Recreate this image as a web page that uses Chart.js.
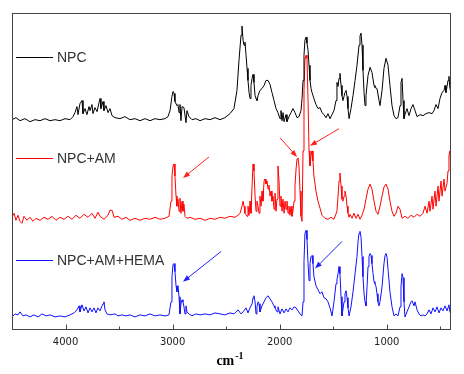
<!DOCTYPE html>
<html>
<head>
<meta charset="utf-8">
<script src="https://cdn.jsdelivr.net/npm/chart.js@4/dist/chart.umd.min.js"></script>
<style>
html,body{margin:0;padding:0;background:#fff;}
#wrap{width:464px;height:374px;position:relative;}
</style>
</head>
<body>
<div id="wrap"><canvas id="c" width="464" height="374"></canvas></div>
<script>
// ---- data: [wavenumber (cm-1), intensity (arb. units, stacked)] ----
const seriesLabels = ['NPC', 'NPC+AM', 'NPC+AM+HEMA'];
const tickValues = [4000, 3000, 2000, 1000];
const minorTickValues = [3500, 2500, 1500, 500];

const npcSpectrum = [
[4500,209],[4463,211],[4425,208],[4379,210],[4332,207],[4285,209],[4238,208],[4192,210],[4145,208],[4098,209],
[4052,208],[4005,210],[3958,209],[3930,212],[3912,216],[3893,222],[3884,214],[3865,225],[3846,228],[3837,215],
[3818,220],[3800,214],[3781,222],[3771,218],[3753,224],[3744,215],[3725,221],[3706,217],[3687,226],[3678,230],
[3669,220],[3650,227],[3641,218],[3622,223],[3603,216],[3585,220],[3566,213],[3538,211],[3491,210],[3445,212],
[3398,209],[3351,210],[3304,208],[3258,210],[3211,208],[3164,210],[3118,209],[3071,210],[3043,212],[3024,218],
[3006,232],[2996,237],[2987,235],[2978,227],[2959,223],[2950,224],[2940,216],[2931,224],[2922,208],[2912,222],
[2894,221],[2875,206],[2866,218],[2847,212],[2819,209],[2782,210],[2744,208],[2697,210],[2651,209],[2604,211],
[2557,209],[2511,211],[2464,215],[2427,220],[2399,238],[2380,268],[2361,293],[2352,302],[2342,288],[2333,283],
[2324,286],[2314,273],[2305,260],[2296,248],[2286,236],[2277,230],[2268,243],[2258,250],[2249,254],[2240,246],
[2230,233],[2221,230],[2212,228],[2202,233],[2184,238],[2165,240],[2146,243],[2128,248],[2109,248],[2090,244],
[2072,236],[2053,228],[2034,220],[2016,216],[1997,210],[1988,218],[1978,208],[1969,216],[1959,207],[1941,214],
[1932,207],[1913,212],[1894,216],[1876,220],[1857,216],[1838,211],[1820,212],[1801,218],[1791,230],[1782,248],
[1773,273],[1764,288],[1754,291],[1745,285],[1735,278],[1726,263],[1717,248],[1707,240],[1698,236],[1680,230],
[1661,224],[1642,220],[1623,221],[1605,216],[1586,214],[1567,211],[1549,215],[1530,210],[1511,214],[1493,218],
[1474,228],[1465,246],[1455,242],[1446,250],[1437,255],[1427,243],[1418,233],[1409,228],[1390,236],[1380,238],
[1371,232],[1362,220],[1352,210],[1334,220],[1315,233],[1296,248],[1278,263],[1259,283],[1250,292],[1240,295],
[1231,283],[1222,258],[1212,236],[1203,223],[1194,233],[1175,253],[1156,261],[1138,256],[1119,243],[1110,241],
[1091,240],[1072,228],[1063,223],[1044,238],[1026,260],[1007,270],[988,263],[970,243],[951,223],[932,213],
[914,210],[895,211],[876,223],[867,246],[857,250],[848,228],[839,210],[830,214],[811,220],[792,213],
[773,220],[755,224],[736,218],[717,212],[689,214],[661,213],[634,215],[605,216],[577,215],[559,218],
[540,224],[521,220],[503,230],[484,236],[465,238],[456,243],[447,236],[437,242],[428,248],[419,252],
[410,240],[400,236]
];

const npcAmSpectrum = [
[4500,112],[4481,116],[4463,109],[4444,114],[4425,108],[4407,106],[4388,113],[4360,109],[4332,112],[4304,108],
[4276,111],[4238,109],[4201,112],[4164,110],[4126,113],[4089,109],[4052,112],[4014,110],[3977,113],[3940,110],
[3902,114],[3865,111],[3828,115],[3790,112],[3753,116],[3725,111],[3697,117],[3678,113],[3641,110],[3603,114],
[3585,119],[3566,119],[3547,112],[3510,113],[3473,110],[3435,112],[3398,109],[3351,111],[3304,109],[3258,111],
[3211,110],[3164,112],[3118,110],[3071,111],[3034,113],[3015,128],[3006,153],[2996,163],[2987,165],[2978,153],
[2968,133],[2959,123],[2950,130],[2940,118],[2931,131],[2922,116],[2912,128],[2903,118],[2894,125],[2884,113],
[2866,111],[2837,112],[2791,110],[2744,111],[2697,109],[2651,111],[2604,110],[2557,112],[2511,111],[2464,113],
[2417,112],[2389,114],[2370,116],[2352,123],[2342,128],[2333,123],[2324,116],[2305,113],[2296,123],[2286,114],
[2277,128],[2268,116],[2258,143],[2249,165],[2240,158],[2230,133],[2221,118],[2212,128],[2202,123],[2193,116],
[2184,133],[2174,123],[2165,138],[2156,128],[2146,148],[2137,150],[2128,145],[2118,148],[2109,140],[2100,144],
[2090,133],[2081,138],[2072,128],[2062,133],[2053,120],[2044,136],[2034,118],[2025,130],[2016,163],[2006,148],
[1997,123],[1988,133],[1978,118],[1969,130],[1959,116],[1950,128],[1941,120],[1932,128],[1922,116],[1913,123],
[1904,114],[1894,123],[1885,113],[1876,118],[1866,128],[1857,143],[1847,160],[1838,170],[1829,171],[1820,163],
[1810,138],[1801,113],[1791,108],[1782,178],[1773,238],[1764,268],[1754,273],[1745,270],[1735,228],[1726,178],
[1717,163],[1707,173],[1698,178],[1689,168],[1680,153],[1661,138],[1642,128],[1623,121],[1605,114],[1577,111],
[1549,110],[1521,112],[1493,110],[1465,118],[1455,133],[1446,148],[1437,156],[1427,143],[1418,130],[1409,128],
[1399,133],[1390,138],[1380,133],[1371,123],[1362,116],[1352,112],[1343,115],[1324,111],[1306,116],[1287,111],
[1268,115],[1250,110],[1231,114],[1212,120],[1194,130],[1175,140],[1156,145],[1138,140],[1119,128],[1100,118],
[1082,115],[1063,123],[1044,133],[1026,142],[1007,145],[988,140],[970,128],[951,118],[932,113],[914,116],
[895,123],[876,120],[857,111],[830,113],[802,111],[773,114],[745,112],[717,115],[689,113],[661,116],
[643,123],[624,116],[605,128],[596,118],[577,133],[568,120],[549,138],[540,123],[521,143],[512,128],
[493,148],[484,133],[465,150],[456,138],[437,146],[428,158],[419,173],[410,178],[400,158]
];

const npcAmHemaSpectrum = [
[4500,13],[4472,16],[4444,15],[4425,18],[4397,14],[4369,15],[4332,13],[4295,15],[4257,13],[4220,16],
[4182,14],[4145,15],[4098,13],[4052,14],[4005,13],[3958,15],[3921,17],[3893,20],[3874,24],[3865,18],
[3846,25],[3828,19],[3809,23],[3790,17],[3771,22],[3753,18],[3734,22],[3716,17],[3697,22],[3678,19],
[3659,24],[3650,26],[3641,28],[3631,20],[3613,16],[3585,15],[3538,16],[3510,14],[3473,15],[3435,14],
[3398,15],[3351,13],[3304,15],[3258,14],[3211,16],[3164,14],[3118,15],[3071,14],[3034,15],[3015,28],
[3006,53],[2996,65],[2987,66],[2978,58],[2968,44],[2959,38],[2950,44],[2940,33],[2931,16],[2922,26],
[2912,30],[2903,28],[2894,23],[2884,16],[2875,24],[2866,18],[2847,16],[2819,14],[2782,16],[2744,15],
[2697,16],[2651,15],[2604,17],[2557,16],[2511,15],[2464,17],[2427,16],[2389,20],[2361,16],[2342,18],
[2314,22],[2296,17],[2277,22],[2258,26],[2249,32],[2240,34],[2230,28],[2221,16],[2212,23],[2202,28],
[2193,26],[2184,18],[2165,24],[2146,28],[2128,32],[2109,34],[2090,31],[2072,28],[2053,24],[2044,22],
[2025,18],[2016,23],[1997,16],[1978,21],[1959,17],[1941,21],[1922,18],[1904,22],[1885,20],[1866,23],
[1847,22],[1829,19],[1810,16],[1791,14],[1782,28],[1773,68],[1764,96],[1754,99],[1745,90],[1735,66],
[1726,49],[1717,66],[1707,73],[1698,74],[1689,66],[1680,53],[1661,44],[1642,40],[1623,36],[1605,38],
[1586,32],[1567,31],[1549,28],[1530,22],[1511,14],[1493,28],[1474,46],[1465,50],[1455,56],[1446,63],
[1437,56],[1427,33],[1418,14],[1399,28],[1390,36],[1380,39],[1371,32],[1362,22],[1352,14],[1334,23],
[1315,38],[1296,56],[1278,73],[1268,88],[1259,96],[1250,98],[1240,92],[1231,73],[1222,53],[1212,36],
[1203,28],[1194,24],[1184,43],[1175,63],[1166,73],[1156,76],[1147,74],[1138,66],[1128,56],[1119,48],
[1110,46],[1100,43],[1091,36],[1082,28],[1072,24],[1063,28],[1044,43],[1026,66],[1016,74],[1007,76],
[997,72],[988,60],[970,38],[951,23],[932,14],[914,16],[895,14],[876,23],[867,43],[857,56],
[848,52],[839,28],[830,13],[811,18],[792,23],[773,28],[764,29],[745,24],[736,28],[717,20],
[699,16],[680,14],[661,15],[643,14],[624,16],[605,20],[587,16],[568,22],[549,18],[531,23],
[512,17],[493,22],[475,19],[456,24],[437,19],[419,25],[410,18],[400,16]
];

// annotation arrows: [fromWn, fromY, toWn, toY]
const redArrows = [[2660,172,2903,151],[1997,191,1838,172],[1446,200,1717,183]];
const blueArrows = [[2548,78,2903,48],[1418,88,1670,61]];

const seriesColors = ['#000000', '#ff0000', '#1010ff'];
const spectra = [npcSpectrum, npcAmSpectrum, npcAmHemaSpectrum];

const toXY = arr => arr.map(p => ({x: p[0], y: p[1]}));

const decorPlugin = {
  id: 'decor',
  afterDatasetsDraw(chart) {
    const {ctx, chartArea: a, scales: {x, y}} = chart;
    ctx.save();
    // arrows
    const drawArrow = (arr, color) => {
      arr.forEach(([w1, v1, w2, v2]) => {
        const x1 = x.getPixelForValue(w1), y1 = y.getPixelForValue(v1);
        const x2 = x.getPixelForValue(w2), y2 = y.getPixelForValue(v2);
        const ang = Math.atan2(y2 - y1, x2 - x1);
        const hl = 7, hw = 2.6;
        ctx.strokeStyle = color; ctx.fillStyle = color; ctx.lineWidth = 1;
        ctx.beginPath();
        ctx.moveTo(x1, y1);
        ctx.lineTo(x2 - Math.cos(ang) * hl * 0.8, y2 - Math.sin(ang) * hl * 0.8);
        ctx.stroke();
        ctx.beginPath();
        ctx.moveTo(x2, y2);
        ctx.lineTo(x2 - Math.cos(ang) * hl + Math.sin(ang) * hw, y2 - Math.sin(ang) * hl - Math.cos(ang) * hw);
        ctx.lineTo(x2 - Math.cos(ang) * hl - Math.sin(ang) * hw, y2 - Math.sin(ang) * hl + Math.cos(ang) * hw);
        ctx.closePath();
        ctx.fill();
      });
    };
    drawArrow(redArrows, '#ff2020');
    drawArrow(blueArrows, '#2020ff');

    // legend entries placed inside the plot, left side
    const legendY = [271, 171, 70];
    chart.data.datasets.forEach((ds, i) => {
      const py = Math.round(y.getPixelForValue(legendY[i])) + 0.5;
      ctx.strokeStyle = ds.borderColor; ctx.lineWidth = 1;
      ctx.beginPath();
      ctx.moveTo(a.left + 4, py); ctx.lineTo(a.left + 41, py);
      ctx.stroke();
      ctx.fillStyle = '#333';
      ctx.font = '14px "Liberation Sans", Arial, sans-serif';
      ctx.textBaseline = 'middle';
      ctx.textAlign = 'left';
      ctx.fillText(ds.label, a.left + 45, py + 0.5);
    });

    // frame
    ctx.strokeStyle = '#444'; ctx.lineWidth = 1;
    const L = Math.round(a.left) + 0.5, T = Math.round(a.top) + 0.5;
    const R = Math.round(a.right) - 0.5, B = Math.round(a.bottom) - 0.5;
    ctx.strokeRect(L, T, R - L, B - T);
    // inward tick marks
    ctx.beginPath();
    tickValues.forEach(v => {
      const px = Math.round(x.getPixelForValue(v)) + 0.5;
      ctx.moveTo(px, B); ctx.lineTo(px, B - 5);
    });
    minorTickValues.forEach(v => {
      const px = Math.round(x.getPixelForValue(v)) + 0.5;
      ctx.moveTo(px, B); ctx.lineTo(px, B - 3);
    });
    ctx.stroke();

    // axis title cm-1
    ctx.fillStyle = '#000';
    ctx.textBaseline = 'alphabetic';
    ctx.textAlign = 'left';
    ctx.font = 'bold 14px "Liberation Serif", "Times New Roman", serif';
    const w1 = ctx.measureText('cm').width;
    ctx.font = 'bold 10px "Liberation Serif", "Times New Roman", serif';
    const w2 = ctx.measureText('-1').width;
    const cx = (a.left + a.right) / 2 - 2;
    const sx = cx - (w1 + w2) / 2;
    const by = a.bottom + 35;
    ctx.font = 'bold 14px "Liberation Serif", "Times New Roman", serif';
    ctx.fillText('cm', sx, by);
    ctx.font = 'bold 10px "Liberation Serif", "Times New Roman", serif';
    ctx.fillText('-1', sx + w1 + 1, by - 6);
    ctx.restore();
  }
};

new Chart(document.getElementById('c'), {
  type: 'line',
  data: {
    datasets: spectra.map((s, i) => ({
      label: seriesLabels[i],
      data: toXY(s),
      borderColor: seriesColors[i],
      borderWidth: 1,
      pointRadius: 0,
      tension: 0,
      fill: false
    }))
  },
  options: {
    responsive: false,
    animation: false,
    devicePixelRatio: 1,
    layout: {padding: {left: 12, right: 13, top: 13, bottom: 20}},
    plugins: {legend: {display: false}, tooltip: {enabled: false}, title: {display: false}},
    scales: {
      x: {
        type: 'linear',
        reverse: true,
        min: 400,
        max: 4500,
        afterBuildTicks: s => { s.ticks = tickValues.map(v => ({value: v})); },
        grid: {display: false, drawTicks: false},
        border: {display: false},
        ticks: {
          padding: 6,
          color: '#222',
          font: {family: '"DejaVu Sans", Verdana, sans-serif', size: 10},
          maxRotation: 0,
          callback: v => String(v)
        }
      },
      y: {
        display: false,
        min: 0,
        max: 315
      }
    }
  },
  plugins: [decorPlugin]
});
</script>
</body>
</html>
